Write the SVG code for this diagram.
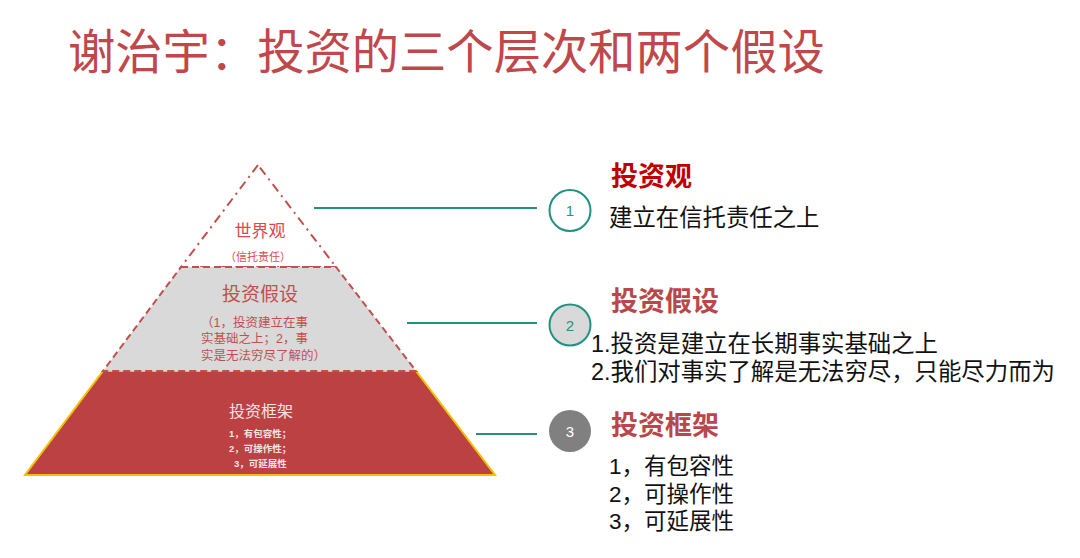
<svg xmlns="http://www.w3.org/2000/svg" width="1080" height="558" viewBox="0 0 1080 558">
<style>
.cjk{font-family:"Liberation Sans","Noto Sans CJK SC",sans-serif}
.title{font-size:47.3px;fill:#C0474A}
.head{font-size:27px;font-weight:bold}
.body{font-size:23.4px;fill:#111}
.list{font-size:22.5px;fill:#111}
.conn{stroke:#1F9282;stroke-width:2;fill:none}
.num{font-size:15px;text-anchor:middle}
.mid{text-anchor:middle}
</style>
<rect width="1080" height="558" fill="#fff"/>
<text id="title" class="cjk title" x="68" y="69">谢治宇：投资的三个层次和两个假设</text>

<g id="layer-top">
<polygon points="258,165 181,267 336,267" fill="#fff" stroke="#C0504D" stroke-width="2" stroke-dasharray="9,5,2,5"/>
<text class="cjk mid" x="260" y="237" font-size="17" fill="#E0474C">世界观</text>
<text class="cjk mid" x="258" y="261" font-size="11" fill="#E0474C">（信托责任）</text>
</g>

<g id="layer-bottom">
<polygon points="103,371 416,371 495,475 25,475" fill="#BC4143" stroke="#F5C000" stroke-width="2"/>
<text class="cjk mid" x="261" y="417" font-size="16" fill="#F7E3E3">投资框架</text>
<text class="cjk" x="229" y="437" font-size="9.5" font-weight="bold" fill="#F7E3E3">1，有包容性；</text>
<text class="cjk" x="229" y="452" font-size="9.5" font-weight="bold" fill="#F7E3E3">2，可操作性；</text>
<text class="cjk" x="234" y="467" font-size="9.5" font-weight="bold" fill="#F7E3E3">3，可延展性</text>
</g>

<g id="layer-middle">
<polygon points="181,267 336,267 416,371 103,371" fill="#D9D9D9" stroke="#C0504D" stroke-width="2" stroke-dasharray="7,4"/>
<text class="cjk mid" x="260" y="301" font-size="19" fill="#C0504D">投资假设</text>
<text class="cjk" x="201" y="327" font-size="12.5" fill="#C0504D">（1，投资建立在事</text>
<text class="cjk" x="201" y="343" font-size="12.5" fill="#C0504D">实基础之上；2，事</text>
<text class="cjk" x="201" y="360" font-size="12.5" fill="#C0504D">实是无法穷尽了解的）</text>
</g>

<g id="connectors">
<line class="conn" x1="314" y1="208" x2="537" y2="208"/>
<line class="conn" x1="407" y1="323" x2="537" y2="323"/>
<line class="conn" x1="476" y1="434" x2="537" y2="434"/>
</g>

<g id="circle-1">
<circle cx="570" cy="210.5" r="20.5" fill="#fff" stroke="#1F9282" stroke-width="2"/>
<text class="cjk num" x="570" y="216" fill="#1F9282">1</text>
</g>
<g id="circle-2">
<circle cx="570" cy="325" r="20.5" fill="#D9D9D9" stroke="#1F9282" stroke-width="2"/>
<text class="cjk num" x="570" y="330.5" fill="#1F9282">2</text>
</g>
<g id="circle-3">
<circle cx="570" cy="431" r="21" fill="#808080"/>
<text class="cjk num" x="570" y="436.5" fill="#fff">3</text>
</g>

<g id="text-1">
<text class="cjk head" x="611" y="186" fill="#C00000">投资观</text>
<text class="cjk body" x="609" y="226">建立在信托责任之上</text>
</g>
<g id="text-2">
<text class="cjk head" x="611" y="311" fill="#B9474A">投资假设</text>
<text class="cjk body" x="591" y="352">1.投资是建立在长期事实基础之上</text>
<text class="cjk body" x="591" y="380">2.我们对事实了解是无法穷尽，只能尽力而为</text>
</g>
<g id="text-3">
<text class="cjk head" x="611" y="435" fill="#B9474A">投资框架</text>
<text class="cjk list" x="609" y="474">1，有包容性</text>
<text class="cjk list" x="609" y="502">2，可操作性</text>
<text class="cjk list" x="609" y="529">3，可延展性</text>
</g>
</svg>
